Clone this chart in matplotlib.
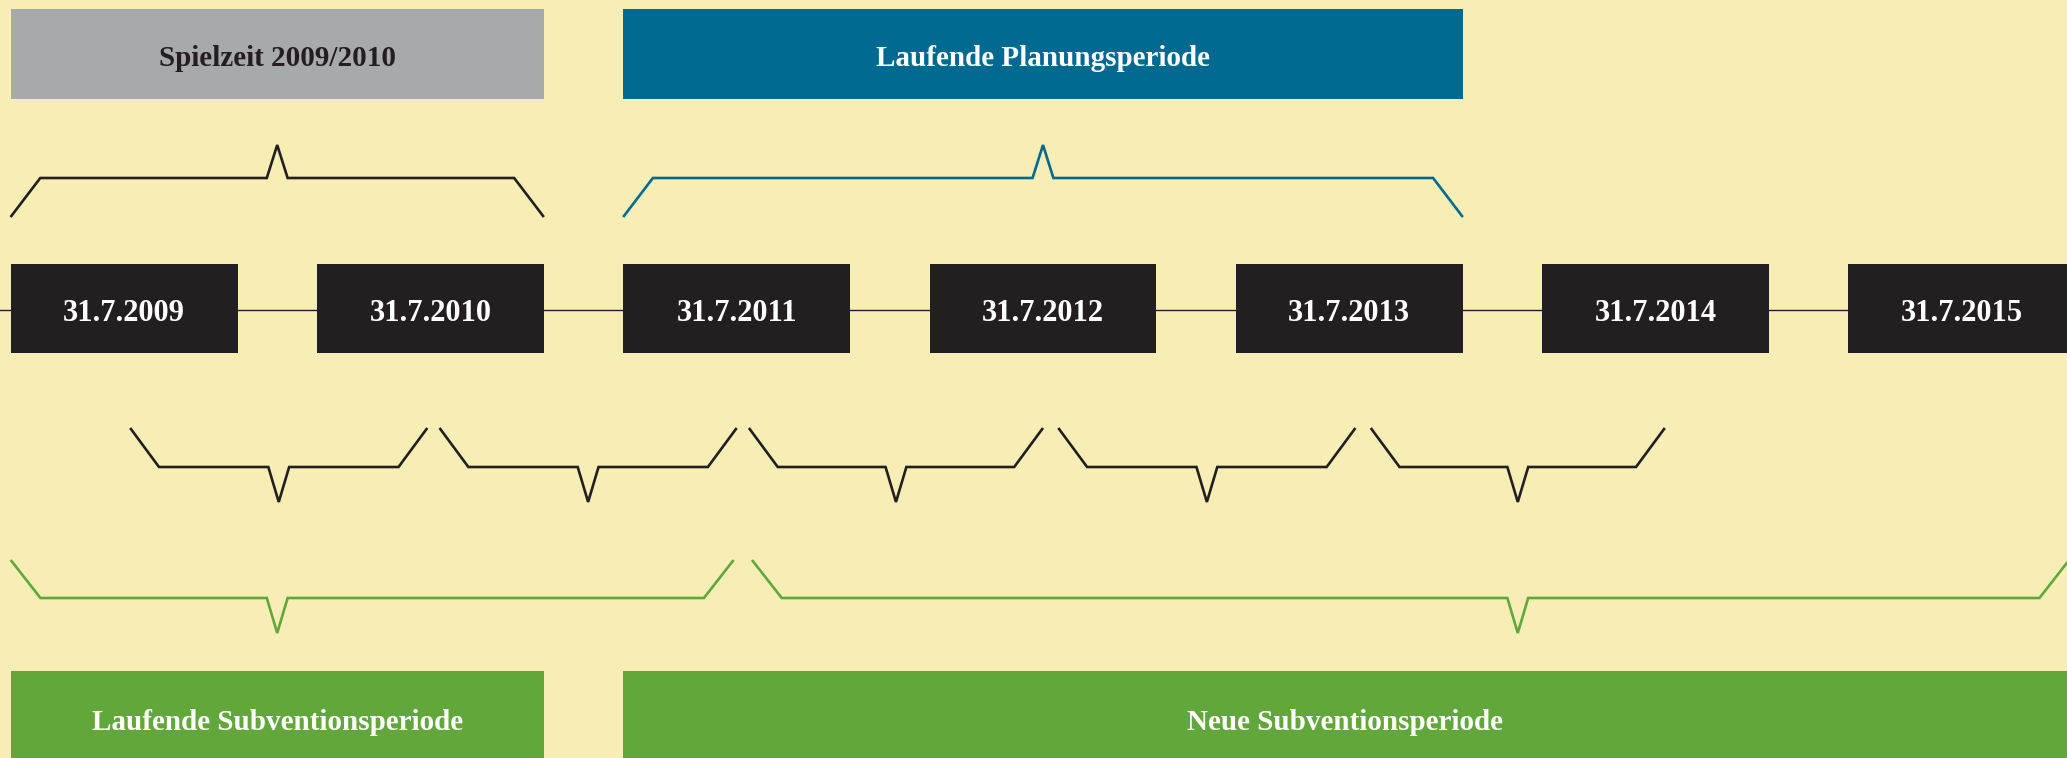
import matplotlib.pyplot as plt
from matplotlib.patches import Rectangle

# timeline data
years = [2009, 2010, 2011, 2012, 2013, 2014, 2015]
dates = ["31.7.2009", "31.7.2010", "31.7.2011", "31.7.2012",
         "31.7.2013", "31.7.2014", "31.7.2015"]

# periods above the timeline (first / last year box covered)
top_labels = ["Spielzeit 2009/2010", "Laufende Planungsperiode"]
top_first = [2009, 2011]
top_last = [2010, 2013]

# seasons below the timeline
season_start = [2009.02, 2010.03, 2011.04, 2012.05, 2013.07]
season_end = [2009.99, 2011.00, 2012.00, 2013.02, 2014.03]

# subsidy periods
sub_labels = ["Laufende Subventionsperiode", "Neue Subventionsperiode"]
sub_first = [2009, 2011]
sub_last = [2010, 2015]
sub_brace_start = [2008.63, 2011.05]
sub_brace_end = [2010.99, 2015.35]
sub_tip = [2009.5, 2013.55]

BG = "#F7EEB6"
BLACK = "#231F20"
GREY = "#A7A9AC"
BLUE = "#006990"
GREEN = "#62A73B"
half = 0.3705  # half width of a date box, in years

plt.rcParams['font.family'] = ['Liberation Serif', 'DejaVu Serif']

fig = plt.figure(figsize=(20.67, 7.58), dpi=100)
fig.patch.set_facecolor(BG)
ax = fig.add_axes([0, 0, 1, 1])
ax.set_facecolor(BG)
ax.set_xlim(2008.595, 2015.343)
ax.set_ylim(758, 0)
ax.axis('off')


def box(x0, x1, y0, y1, color, text, tcolor, size):
    ax.add_patch(Rectangle((x0, y0), x1 - x0, y1 - y0, color=color, lw=0))
    ax.text((x0 + x1) / 2, (y0 + y1) / 2 + 5, text, color=tcolor, fontsize=size,
            fontweight='bold', ha='center', va='center')


def brace(x0, x1, tip, y_end, y_flat, y_tip, color, dx=0.097, nw=0.034):
    xs = [x0, x0 + dx, tip - nw, tip, tip + nw, x1 - dx, x1]
    ys = [y_end, y_flat, y_flat, y_tip, y_flat, y_flat, y_end]
    ax.plot(xs, ys, color=color, lw=1.9, solid_joinstyle='miter',
            solid_capstyle='butt')


# header boxes + braces
top_colors = [GREY, BLUE]
top_text = [BLACK, "white"]
for i in range(len(top_labels)):
    a = top_first[i] - half
    b = top_last[i] + half
    box(a, b, 9, 99, top_colors[i], top_labels[i], top_text[i], 21)
    brace(a, b, (a + b) / 2, 217, 178, 145, BLACK if i == 0 else BLUE)

# timeline
ax.plot([2008.595, 2015.343], [310, 310], color=BLACK, lw=1.0, zorder=1)
for yr, d in zip(years, dates):
    box(yr - half, yr + half, 264, 353, BLACK, d, "white", 22)

# season braces
for s, e in zip(season_start, season_end):
    brace(s, e, (s + e) / 2, 428, 467, 502, BLACK, dx=0.094)

# subsidy braces + boxes
for i in range(len(sub_labels)):
    brace(sub_brace_start[i], sub_brace_end[i], sub_tip[i], 560, 598, 633, GREEN)
    a = sub_first[i] - half
    b = sub_last[i] + half
    ax.add_patch(Rectangle((a, 671), b - a, 100, color=GREEN, lw=0))
    ax.text((a + min(b, 2015.343)) / 2, 723, sub_labels[i], color="white",
            fontsize=21, fontweight='bold', ha='center', va='center')

fig.savefig("out.png", dpi=100, facecolor=BG)
